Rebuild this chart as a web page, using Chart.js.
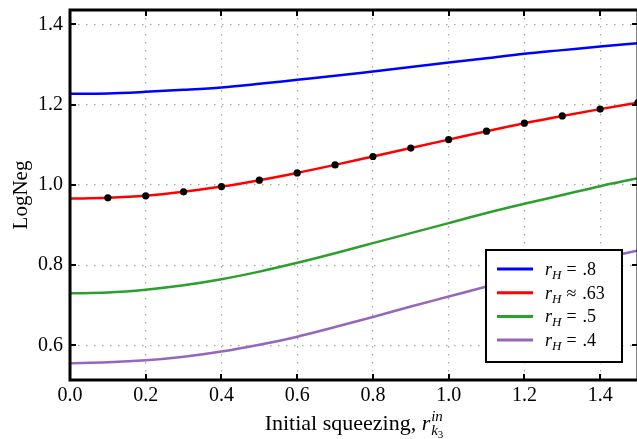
<!DOCTYPE html>
<html>
<head>
<meta charset="utf-8">
<script src="https://cdn.jsdelivr.net/npm/chart.js@4.4.1/dist/chart.umd.min.js"></script>
<style>
  html, body { margin: 0; padding: 0; background: #fff; overflow: hidden; }
  #wrap { width: 637px; height: 439px; overflow: hidden; }
</style>
</head>
<body>
<div id="wrap"><canvas id="grafico" width="642" height="439"></canvas></div>
<script>
// valores (passo de 0.1 no squeezing inicial)
const squeezing = [0.0, 0.1, 0.2, 0.3, 0.4, 0.5, 0.6, 0.7, 0.8, 0.9, 1.0, 1.1, 1.2, 1.3, 1.4, 1.5];
const logNegRH08 = [1.227, 1.228, 1.232, 1.237, 1.243, 1.252, 1.262, 1.272, 1.283, 1.294, 1.305, 1.316, 1.327, 1.336, 1.345, 1.353];
const logNegRH063 = [0.966, 0.968, 0.973, 0.983, 0.996, 1.012, 1.030, 1.050, 1.071, 1.092, 1.113, 1.134, 1.154, 1.172, 1.189, 1.205];
const logNegRH05 = [0.730, 0.732, 0.739, 0.750, 0.765, 0.784, 0.806, 0.830, 0.855, 0.880, 0.905, 0.930, 0.953, 0.975, 0.997, 1.017];
const logNegRH04 = [0.556, 0.558, 0.563, 0.572, 0.585, 0.602, 0.622, 0.646, 0.671, 0.697, 0.722, 0.747, 0.771, 0.794, 0.816, 0.837];

const xTicks = [0.0, 0.2, 0.4, 0.6, 0.8, 1.0, 1.2, 1.4];
const yTicks = [0.6, 0.8, 1.0, 1.2, 1.4];

// legenda: r_H <relação> <valor>
const legendRel = ['=', '\u2248', '=', '='];
const legendVal = ['.8', '.63', '.5', '.4'];
const cores = ['#0000ff', '#ff0000', '#2ca02c', '#9467bd'];

const serif = "'Liberation Serif', 'DejaVu Serif', serif";

// moldura, ticks para dentro, legenda e título do eixo x
const moldura = {
    id: 'moldura',
    afterDraw(chart) {
        const { ctx, chartArea: a, scales } = chart;
        const seg = (x1, y1, x2, y2) => { ctx.beginPath(); ctx.moveTo(x1, y1); ctx.lineTo(x2, y2); ctx.stroke(); };
        ctx.save();
        ctx.strokeStyle = '#000';
        ctx.lineWidth = 2;
        xTicks.forEach(v => {
            const px = Math.round(scales.x.getPixelForValue(v));
            seg(px, a.top, px, a.top + 6);
            seg(px, a.bottom, px, a.bottom - 6);
        });
        yTicks.forEach(v => {
            const py = Math.round(scales.y.getPixelForValue(v));
            seg(a.left, py, a.left + 6, py);
            seg(a.right, py, a.right - 6, py);
        });
        ctx.lineWidth = 3;
        ctx.strokeRect(a.left, a.top, a.right - a.left, a.bottom - a.top);

        // legenda
        const bx = 486, by = 250, bw = 136, bh = 112;
        ctx.fillStyle = '#fff';
        ctx.fillRect(bx, by, bw, bh);
        ctx.lineWidth = 2;
        ctx.strokeRect(bx, by, bw, bh);
        ctx.textBaseline = 'alphabetic';
        legendVal.forEach((val, i) => {
            const y = 269 + i * 23.7;
            ctx.strokeStyle = cores[i];
            ctx.lineWidth = 3;
            seg(497, y, 533, y);
            ctx.fillStyle = '#000';
            let x = 545;
            const base = y + 6;
            ctx.font = 'italic 18px ' + serif;
            ctx.fillText('r', x, base);
            x += ctx.measureText('r').width;
            ctx.font = 'italic 13px ' + serif;
            ctx.fillText('H', x, base + 4);
            x += ctx.measureText('H').width + 5;
            ctx.font = '18px ' + serif;
            ctx.fillText(legendRel[i], x, base);
            x += ctx.measureText(legendRel[i]).width + 6;
            ctx.fillText(val, x, base);
        });

        // título do eixo x: Initial squeezing, r_{k3}^{in}
        ctx.fillStyle = '#000';
        const t1 = 'Initial squeezing, ';
        ctx.font = '22px ' + serif;
        const w1 = ctx.measureText(t1).width;
        ctx.font = 'italic 22px ' + serif;
        const wr = ctx.measureText('r').width;
        ctx.font = 'italic 15px ' + serif;
        const wIn = ctx.measureText('in').width;
        const wk = ctx.measureText('k').width;
        ctx.font = '11px ' + serif;
        const w3 = ctx.measureText('3').width;
        const total = w1 + wr + 1 + Math.max(wIn, wk + w3);
        let tx = (a.left + a.right) / 2 - total / 2;
        const ty = 430;
        ctx.font = '22px ' + serif;
        ctx.fillText(t1, tx, ty);
        tx += w1;
        ctx.font = 'italic 22px ' + serif;
        ctx.fillText('r', tx, ty);
        tx += wr + 1;
        ctx.font = 'italic 15px ' + serif;
        ctx.fillText('in', tx, ty - 9);
        ctx.fillText('k', tx, ty + 5);
        ctx.font = '11px ' + serif;
        ctx.fillText('3', tx + wk, ty + 8);
        ctx.restore();
    }
};

const ctxGrafico = document.getElementById('grafico').getContext('2d');

const serieBase = { borderWidth: 2.5, pointRadius: 0, cubicInterpolationMode: 'monotone', fill: false };

new Chart(ctxGrafico, {
    type: 'line',
    data: {
        labels: squeezing,
        datasets: [
            { ...serieBase, label: 'r_H = .8', data: logNegRH08, borderColor: cores[0] },
            {
                ...serieBase, label: 'r_H ≈ .63', data: logNegRH063, borderColor: cores[1],
                pointRadius: squeezing.map((s, i) => i === 0 ? 0 : 3.6),
                pointBackgroundColor: '#000', pointBorderWidth: 0
            },
            { ...serieBase, label: 'r_H = .5', data: logNegRH05, borderColor: cores[2] },
            { ...serieBase, label: 'r_H = .4', data: logNegRH04, borderColor: cores[3] }
        ]
    },
    options: {
        responsive: false,
        animation: false,
        layout: { padding: { top: 10, right: 2, left: 0, bottom: 0 } },
        plugins: { legend: { display: false }, tooltip: { enabled: false } },
        scales: {
            x: {
                type: 'linear',
                min: 0,
                max: 1.5,
                afterBuildTicks: s => { s.ticks = xTicks.map(v => ({ value: v })); },
                afterFit: s => { s.height = 59; s.paddingLeft = 0; s.paddingRight = 0; },
                grid: { color: '#a8a8a8', lineWidth: 1.2, drawTicks: false },
                border: { display: false, dash: [1.5, 6.5] },
                ticks: {
                    color: '#000', padding: 4, maxRotation: 0,
                    font: { family: serif, size: 20 },
                    callback: v => v.toFixed(1)
                }
            },
            y: {
                min: 0.514,
                max: 1.436,
                afterBuildTicks: s => { s.ticks = yTicks.map(v => ({ value: v })); },
                afterFit: s => { s.width = 70; s.paddingTop = 0; s.paddingBottom = 0; },
                grid: { color: '#a8a8a8', lineWidth: 1.2, drawTicks: false },
                border: { display: false, dash: [1.5, 6.5] },
                ticks: {
                    color: '#000', padding: 7,
                    font: { family: serif, size: 20 },
                    callback: v => v.toFixed(1)
                },
                title: {
                    display: true, text: 'LogNeg', color: '#000',
                    font: { family: serif, size: 21 },
                    padding: { top: 9, bottom: 0 }
                }
            }
        }
    },
    plugins: [moldura]
});
</script>
</body>
</html>
